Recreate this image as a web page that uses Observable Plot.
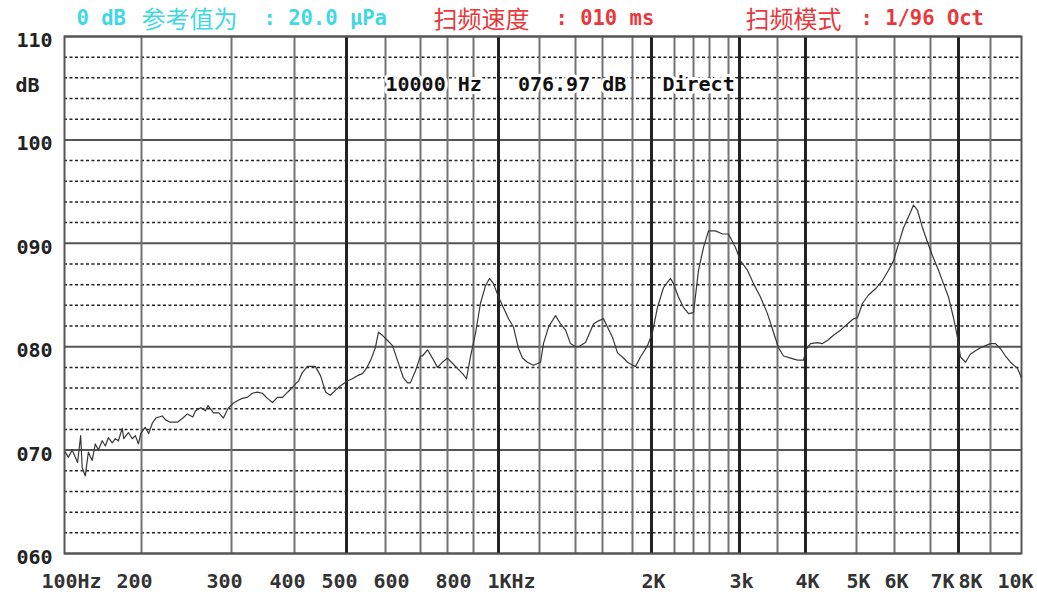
<!DOCTYPE html>
<html><head><meta charset="utf-8">
<script src="https://cdn.jsdelivr.net/npm/d3@7"></script>
<script src="https://cdn.jsdelivr.net/npm/@observablehq/plot@0.6"></script>
<style>
html,body{margin:0;padding:0;background:#fff;}
#wrap{position:relative;width:1037px;height:595px;}
</style></head><body><div id="wrap"></div>
<script>
// ---- data ----
const gridFreqs = [100,200,300,400,500,600,700,800,900,1000,1200,1400,1600,1800,2000,2200,2400,2600,2800,3000,3500,4000,5000,6000,7000,8000,9000,10000];
const majorFreqs = [500,1000,2000,3000,4000,8000];
const tickFreqs = [100,200,300,400,500,600,800,1000,2000,3000,4000,5000,6000,7000,8000,10000];
const tickLabels = ["100Hz","200","300","400","500","600","800","1KHz","2K","3k","4K","5K","6K","7K","8K","10K"];
const dbMajor = [60,70,80,90,100,110];
const dbMinor = [62,64,66,68,72,74,76,78,82,84,86,88,92,94,96,98,102,104,106,108];
const freqHz = [101,105,110,117,121,123,127,131,136,140,144,149,153,157,162,166,170,175,177,183,188,192,196,199,204,208,212,216,223,227,232,240,246,251,257,260,266,271,274,280,286,291,296,302,310,317,325,333,341,349,357,365,373,381,389,396,402,408,415,425,440,450,460,469,479,488,503,515,528,541,551,562,574,582,592,606,620,634,651,663,671,686,700,707,726,744,763,781,800,819,838,858,873,888,908,928,948,964,980,1000,1024,1049,1073,1098,1117,1141,1171,1206,1222,1250,1289,1317,1345,1372,1400,1422,1474,1533,1570,1607,1633,1667,1700,1733,1767,1800,1832,1884,1958,2009,2052,2104,2165,2191,2242,2295,2347,2400,2463,2525,2588,2663,2737,2800,2927,3013,3105,3184,3276,3368,3447,3518,3607,3732,3857,3964,4020,4098,4235,4333,4431,4549,4686,4824,4941,5026,5158,5316,5500,5684,5842,5974,6083,6250,6444,6528,6639,6778,6917,7071,7286,7464,7643,7821,7964,8063,8219,8375,8531,8688,8844,9000,9161,9323,9484,9645,9871,10000];
const levelDb = [69.8,69.3,70.0,68.8,71.4,68.3,67.5,69.8,69.0,70.6,70.0,70.9,70.4,71.2,70.7,71.1,70.9,72.1,71.1,71.7,71.1,71.4,70.6,71.6,72.2,71.6,72.6,73.1,73.3,72.9,72.7,72.7,73.1,73.5,73.2,73.8,74.1,73.8,74.3,73.6,73.6,73.1,74.0,74.5,74.8,75.0,75.1,75.5,75.6,75.5,75.0,74.6,75.1,75.1,75.6,76.0,76.4,76.7,77.5,78.1,78.1,77.2,75.6,75.3,75.8,76.2,76.7,76.9,77.2,77.4,77.9,78.7,79.9,81.4,81.1,80.6,80.1,78.7,77.0,76.5,76.5,77.7,79.1,79.1,79.7,78.9,78.0,78.5,78.9,78.4,77.9,77.4,76.9,79.0,81.3,84.2,85.9,86.6,86.1,84.8,83.8,82.7,81.9,79.8,78.9,78.5,78.2,78.5,80.3,81.9,83.0,82.2,81.6,80.3,80.0,80.0,80.4,82.2,82.5,82.7,81.9,80.9,79.4,79.0,78.5,78.2,78.1,79.0,80.1,81.4,83.8,85.7,86.6,86.1,84.8,83.8,83.2,83.3,87.4,89.6,91.2,91.2,90.9,90.9,89.6,88.3,87.4,86.1,84.8,83.2,81.4,79.9,79.1,78.9,78.7,78.7,79.8,80.3,80.4,80.3,80.6,81.1,81.6,82.2,82.7,82.8,84.2,85.0,85.6,86.4,87.4,88.3,89.6,91.5,93.0,93.7,93.2,91.5,90.1,88.8,87.4,86.1,84.8,82.8,80.9,79.0,78.5,79.3,79.6,79.9,80.1,80.3,80.3,79.8,79.1,78.5,77.9,77.0];
const readout = "10000 Hz\u00a0\u00a0\u00a0076.97 dB\u00a0\u00a0\u00a0Direct";

// ---- chart ----
const curve = freqHz.map((f, i) => ({f, db: levelDb[i]}));
const labelOf = new Map(tickFreqs.map((f, i) => [f, tickLabels[i]]));
const minorFreqs = gridFreqs.filter(f => !majorFreqs.includes(f) && f !== 100 && f !== 10000);
const mono = "'DejaVu Sans Mono', 'Liberation Mono', monospace";
const cjk = "'Noto Sans CJK SC', sans-serif";
const axisText = {tickFormat: d => labelOf.get(d), tickSize: 0, tickPadding: 20, fontSize: 20, fontWeight: "bold", fill: "#333", label: null};
const hdr = {frameAnchor: "top-left", textAnchor: "start", lineAnchor: "middle"};
// label groups nudged like the instrument's character-grid placement
const labelGroups = [[[100], 7], [[200,300,400,500], -7], [[600,800], 6], [[1000], 13], [[2000,3000,4000,5000,6000], 2], [[7000,8000], 12], [[10000], -6]];

const chart = Plot.plot({
  width: 1037, height: 595,
  marginLeft: 64, marginRight: 16, marginTop: 36, marginBottom: 42,
  style: {fontFamily: mono, background: "#fff"},
  x: {type: "linear", domain: gridFreqs, label: null,
      range: [64,141,231,294,346,385,420,447,473,498,539,575,602,632,651,674,693,709,728,739,777,805,856,894,930,958,990,1021]},
  y: {domain: [60, 110], label: null},
  marks: [
    Plot.ruleY(dbMinor, {stroke: "#222", strokeWidth: 1.5, strokeDasharray: "3,2.5"}),
    Plot.ruleY(dbMajor, {stroke: "#555", strokeWidth: 2}),
    Plot.ruleX(minorFreqs, {stroke: "#737373", strokeWidth: 2}),
    Plot.ruleX(majorFreqs, {stroke: "#222", strokeWidth: 3}),
    Plot.frame({stroke: "#555", strokeWidth: 2}),
    Plot.line(curve, {x: "f", y: "db", stroke: "#383838", strokeWidth: 1.2}),
    Plot.axisY(dbMajor, {tickFormat: d3.format("03d"), tickSize: 0, tickPadding: 12, fontSize: 20, fontWeight: "bold", fill: "#222", dy: 4, label: null}),
    ...labelGroups.map(([ticks, dx]) => Plot.axisX(ticks, {...axisText, dx})),
    Plot.text(["dB"], {...hdr, dx: -49, dy: 49, fontSize: 20, fontWeight: "bold", fill: "#222"}),
    Plot.text([readout], {...hdr, dx: 321, dy: 48, fontSize: 20, fontWeight: "bold", fill: "white", stroke: "white", strokeWidth: 6}),
    Plot.text([readout], {...hdr, dx: 321, dy: 48, fontSize: 20, fontWeight: "bold", fill: "#111"}),
    // header
    Plot.text(["0 dB"], {...hdr, dx: 12, dy: -18, fontSize: 20.5, fontWeight: "bold", fill: "#3fd8e4"}),
    Plot.text(["参考值为"], {...hdr, dx: 77, dy: -16, fontSize: 24, fontFamily: cjk, fill: "#3fd8e4"}),
    Plot.text([": 20.0 μPa"], {...hdr, dx: 199, dy: -18, fontSize: 20.5, fontWeight: "bold", fill: "#3fd8e4"}),
    Plot.text(["扫频速度"], {...hdr, dx: 369, dy: -16, fontSize: 24, fontFamily: cjk, fill: "#e8383c"}),
    Plot.text([": 010 ms"], {...hdr, dx: 491, dy: -18, fontSize: 20.5, fontWeight: "bold", fill: "#e8383c"}),
    Plot.text(["扫频模式"], {...hdr, dx: 681, dy: -16, fontSize: 24, fontFamily: cjk, fill: "#e8383c"}),
    Plot.text([": 1/96 Oct"], {...hdr, dx: 796, dy: -18, fontSize: 20.5, fontWeight: "bold", fill: "#e8383c"})
  ]
});
document.getElementById("wrap").appendChild(chart);
</script></body></html>
